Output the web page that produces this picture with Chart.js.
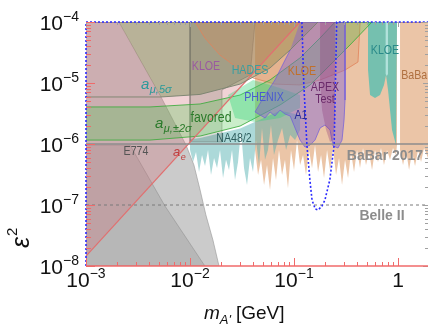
<!DOCTYPE html>
<html>
<head>
<meta charset="utf-8">
<script src="https://cdn.jsdelivr.net/npm/chart.js@4.4.0/dist/chart.umd.min.js"></script>
<style>
  html, body { margin: 0; padding: 0; background: #fff; }
  #c { display: block; }
</style>
</head>
<body>
<canvas id="c" width="428" height="328"></canvas>
<script>
// ===== DATOS (masa en GeV, epsilon^2) =====
const xTickValues = [0.001, 0.01, 0.1, 1];
const xTickExps = ['\u22123', '\u22122', '\u22121', null];
const yTickValues = [1e-8, 1e-7, 1e-6, 1e-5, 1e-4];
const yTickExps = ['\u22128', '\u22127', '\u22126', '\u22125', '\u22124'];

// BaBar 2017
const babarMass = [0.0422,0.0451,0.0482,0.0515,0.0550,0.0588,0.0628,0.0671,0.0717,0.0767,
  0.0819,0.0875,0.0935,0.1000,0.1069,0.1143,0.1221,0.1304,0.1394,0.1490,
  0.1592,0.1702,0.1819,0.1943,0.2077,0.2219,0.2371,0.2534,0.2708,0.2894,
  0.3093,0.3305,0.3532,0.3774,0.4033,0.4310,0.4605,0.4921,0.5259,0.5623,
  0.6005,0.6417,0.6858,0.7328,0.7832,0.8370,0.8945,0.9558,0.977,0.977,0.0422];
const babarEps = [8.0e-7,3.1e-7,5.5e-7,2.13e-7,4.53e-7,1.76e-7,5.9e-7,2.57e-7,8.0e-7,3.1e-7,
  5.5e-7,1.89e-7,8.0e-7,3.75e-7,1.16e-6,4.53e-7,6.6e-7,3.1e-7,8.0e-7,4.05e-7,
  9.6e-7,3.48e-7,6.6e-7,2.77e-7,8.0e-7,3.75e-7,8.6e-7,3.1e-7,5.9e-7,2.13e-7,
  5.5e-7,2.77e-7,7.4e-7,3.48e-7,8.0e-7,4.05e-7,8.6e-7,4.53e-7,7.4e-7,3.75e-7,
  8.0e-7,5.07e-7,8.6e-7,4.53e-7,8.0e-7,5.5e-7,8.6e-7,6.6e-7,9.6e-7,1e-4,1e-4];
const babar2Mass = [1.045,1.117,1.194,1.276,1.364,1.457,1.557,1.664,1.778,1.941,1.941,1.045];
const babar2Eps = [8.0e-7,4.53e-7,8.0e-7,3.75e-7,7.4e-7,4.36e-7,8.0e-7,5.07e-7,8.6e-7,5.9e-7,1e-4,1e-4];

// NA48/2
const na48Mass = [0.0100,0.01069,0.01142,0.01221,0.01304,0.01394,0.01490,0.01592,0.01702,0.01819,
  0.01943,0.02077,0.02219,0.02371,0.02534,0.02708,0.02894,0.03093,0.03305,0.03532,
  0.03774,0.04033,0.04310,0.04605,0.04921,0.05259,0.05620,0.06005,0.06417,0.07018,
  0.07674,0.08392,0.09178,0.1023,0.1143,0.1143,0.0733,0.0303,0.0125,0.0100];
const na48Eps = [8.0e-7,5.07e-7,7.4e-7,3.48e-7,6.6e-7,4.36e-7,8.0e-7,3.1e-7,5.9e-7,4.05e-7,
  8.0e-7,2.77e-7,5.5e-7,3.75e-7,8.0e-7,2.57e-7,5.07e-7,1.7e-6,4.05e-7,2.13e-7,
  5.9e-7,3.48e-7,1.16e-6,4.53e-7,1.83e-6,5.5e-7,8.0e-7,2.05e-6,6.6e-7,1.16e-6,
  1.83e-6,8.0e-7,1.41e-6,1.16e-6,1.7e-6,3.0e-6,3.5e-6,1.8e-6,1.25e-6,1.2e-6];

// KLOE (alta masa)
const kloe2Mass = [0.5145,0.5145,0.538,0.6005,0.671,0.7328,0.7667,0.8013,0.8757,0.9558,0.977];
const kloe2Eps = [1e-4,1.63e-5,6.35e-6,5.68e-6,6.35e-6,9.3e-6,1.35e-5,7.7e-6,1.7e-6,9.6e-7,1e-4];
const stripMass = [0.76,0.76,0.78,0.80,0.80];
const stripEps = [1e-4,1.4e-5,1.3e-5,1.4e-5,1e-4];

// beam dumps (E774, E141 ...)
const grayOuterMass = [1e-3,2.07e-3,5.26e-3,9.16e-3,0.0109,0.0125,0.0142,0.0166,0.019,1e-3];
const grayOuterEps = [1e-4,1e-4,5.9e-6,9.6e-7,4.53e-7,1.76e-7,6.9e-8,2.67e-8,1e-8,1e-8];
const grayInnerMass = [1e-3,2.65e-3,5.75e-3,0.0139,1e-3];
const grayInnerEps = [9.6e-7,9.6e-7,9.6e-8,1e-8,1e-8];

// a_e
const aeMass = [1e-3,0.114,1e-3];
const aeEps = [1.45e-8,1e-4,1e-4];

// a_mu 5 sigma
const amu5Mass = [2.07e-3,5.26e-3,0.0125,0.0303,0.0587,0.0916,0.143,0.170];
const amu5Eps = [1e-4,5.9e-6,6.5e-6,9.6e-6,1.76e-5,3.48e-5,7.4e-5,1e-4];
const amu5LineMass = [1e-3,5.26e-3,0.0125,0.0303,0.0587,0.0916,0.143,0.170];
const amu5LineEps = [5.9e-6,5.9e-6,6.5e-6,9.6e-6,1.76e-5,3.48e-5,7.4e-5,1e-4];

// a_mu +-2 sigma favored
const favMass = [1e-3,4.12e-3,0.0125,0.0303,0.0587,0.114,0.178,0.248,
  0.562,0.345,0.222,0.143,0.0733,0.0303,0.0125,4.12e-3,1e-3];
const favEps = [4.05e-6,4.05e-6,4.53e-6,6.35e-6,1.12e-5,2.57e-5,5.47e-5,1e-4,
  1e-4,4.2e-5,1.97e-5,9.3e-6,4.36e-6,1.97e-6,1.35e-6,1.16e-6,1.16e-6];

// KLOE / WASA (zona oscura)
const darkMass = [0.01,0.01,0.0203,0.0203,0.0378,0.0422];
const darkEps = [1e-4,1.08e-6,1.08e-6,7.7e-6,1.35e-5,1e-4];

// KLOE (naranja)
const kloeMass = [0.0112,0.0139,0.0194,0.0303,0.0404,0.0656,0.114,0.178,0.309,0.412,0.432];
const kloeEps = [1e-4,5.47e-5,2.88e-5,1.63e-5,1.21e-5,9.6e-6,9.3e-6,1.12e-5,1.63e-5,2.21e-5,1e-4];

// PHENIX
const phenixMass = [0.0232,0.0404,0.0733,0.114,0.114,0.0733,0.0422,0.0271];
const phenixEps = [6.35e-6,1.12e-5,8.3e-6,6.35e-6,3.9e-6,2.67e-6,2.3e-6,2.67e-6];

// A1
const a1Mass = [0.1143,0.3093,0.3093,0.3027,0.2894,0.2649,0.2371,0.2219,0.1986,0.178,
  0.1592,0.1426,0.1276,0.1143,0.1023,0.0918,0.0819,0.0733,0.0656,0.0588,
  0.0526,0.0471,0.0422,0.0492,0.0656,0.0918];
const a1Eps = [1e-4,1e-4,5.26e-6,2.47e-6,1.16e-6,8.6e-7,9.3e-7,1.7e-6,2.05e-6,1.83e-6,
  1.16e-6,9.6e-7,8.9e-7,1.16e-6,1.83e-6,2.88e-6,3.1e-6,3.6e-6,2.88e-6,3.35e-6,
  2.67e-6,3.0e-6,3.35e-6,5.26e-6,1.12e-5,3.48e-5];

// APEX test
const apexMass = [0.178,0.2477,0.2477,0.2371,0.2219,0.2031,0.1858,0.178];
const apexEps = [1e-4,1e-4,2.47e-6,1.16e-6,1.08e-6,1.7e-6,3.6e-6,1.12e-5];

// Belle II (proyeccion, punteada)
const belleMass = [1e-3,1e-3,0.119,0.124,0.133,0.142,0.149,0.160,0.170,0.185,0.198,0.221,0.243,0.257,1.941];
const belleEps = [1e-8,1e-4,1e-4,1e-5,9.6e-7,2.6e-7,1.2e-7,8.6e-8,8.3e-8,9.5e-8,1.2e-7,2.6e-7,9.6e-7,1e-4,1e-4];

// lineas horizontales
const refLineMass = [1e-3, 1.941];
const babar17Eps = [1e-6, 1e-6];
const belle2Eps = [1e-7, 1e-7];

// ===== HELPERS =====
const FONT = '"Liberation Sans", Arial, Helvetica, sans-serif';
let drawIdx = 0;

function pts(ms, es) {
  return ms.map((m, i) => ({ x: m, y: es[i] }));
}

function region(ms, es, fillColor, borderColor, borderWidth) {
  return {
    data: pts(ms, es),
    showLine: true,
    fill: 'shape',
    backgroundColor: fillColor,
    borderColor: borderColor || 'rgba(0,0,0,0)',
    borderWidth: borderWidth || 0,
    pointRadius: 0,
    tension: 0,
    order: 100 - (drawIdx++)
  };
}

function line(ms, es, color, width, dash) {
  return {
    data: pts(ms, es),
    showLine: true,
    fill: false,
    borderColor: color,
    borderWidth: width,
    borderDash: dash || [],
    pointRadius: 0,
    tension: 0,
    clip: 3,
    order: 100 - (drawIdx++)
  };
}

const datasets = [
  region(babarMass, babarEps, 'rgba(215,140,80,0.5)'),
  region(babar2Mass, babar2Eps, 'rgba(215,140,80,0.5)'),
  region(na48Mass, na48Eps, 'rgba(70,170,170,0.45)'),
  region(kloe2Mass, kloe2Eps, 'rgba(60,190,180,0.68)'),
  region(stripMass, stripEps, 'rgba(220,250,250,0.6)'),
  region(grayOuterMass, grayOuterEps, 'rgba(110,110,110,0.36)', 'rgba(150,150,150,0.6)', 1),
  region(grayInnerMass, grayInnerEps, 'rgba(110,110,110,0.22)', 'rgba(140,140,140,0.5)', 1),
  region(aeMass, aeEps, 'rgba(210,110,120,0.3)'),
  region(amu5Mass, amu5Eps, 'rgba(100,130,60,0.4)'),
  region(darkMass, darkEps, 'rgba(80,80,60,0.2)', 'rgba(90,90,80,0.35)', 1),
  region(kloeMass, kloeEps, 'rgba(215,140,90,0.3)', 'rgba(225,130,90,0.8)', 1),
  region(favMass, favEps, 'rgba(80,200,80,0.3)', 'rgba(60,170,60,0.85)', 1),
  region(phenixMass, phenixEps, 'rgba(50,210,120,0.38)'),
  region(a1Mass, a1Eps, 'rgba(130,100,210,0.45)', 'rgba(110,90,220,0.7)', 1),
  region(apexMass, apexEps, 'rgba(140,50,120,0.3)'),
  line([aeMass[0], aeMass[1]], [aeEps[0], aeEps[1]], '#e07070', 1.2),
  line(amu5LineMass, amu5LineEps, 'rgba(120,130,110,0.9)', 1),
  line(refLineMass, babar17Eps, '#8c8c8c', 1.5),
  line(refLineMass, belle2Eps, '#7a7a7a', 1, [3, 3]),
  line(belleMass, belleEps, '#2a2aff', 1.6, [2, 2])
];

// ===== ETIQUETAS =====
const regionLabels = [
  { t: 'KLOE', x: 206, y: 66, c: '#9a5aa0' },
  { t: 'HADES', x: 250, y: 70, c: '#3a9ea0' },
  { t: 'KLOE', x: 302, y: 71, c: '#c0702a' },
  { t: 'PHENIX', x: 264, y: 97, c: '#4a5ad0' },
  { t: 'APEX', x: 325, y: 87, c: '#6a2a6a' },
  { t: 'Test', x: 325, y: 99, c: '#6a2a6a' },
  { t: 'A1', x: 301, y: 115, c: '#2a2a9a' },
  { t: 'NA48/2', x: 234, y: 138, c: '#2e5e5e' },
  { t: 'E774', x: 136, y: 151, c: '#555555' },
  { t: 'KLOE', x: 385, y: 50, c: '#2a8a8a' },
  { t: 'BaBar', x: 416, y: 75, c: '#b07040' },
  { t: 'favored', x: 211, y: 118, c: '#2a7a2a', s: 15 }
];

function squeezed(ctx, t, x, y, size, color) {
  ctx.save();
  ctx.translate(x, y);
  ctx.scale(0.82, 1);
  ctx.font = size + 'px ' + FONT;
  ctx.fillStyle = color;
  ctx.textAlign = 'center';
  ctx.textBaseline = 'middle';
  ctx.fillText(t, 0, 0);
  ctx.restore();
}

function withSub(ctx, main, sub, x, base, color, size) {
  ctx.save();
  ctx.fillStyle = color;
  ctx.textAlign = 'left';
  ctx.textBaseline = 'alphabetic';
  ctx.font = 'italic ' + size + 'px ' + FONT;
  ctx.fillText(main, x, base);
  const w = ctx.measureText(main).width;
  ctx.font = 'italic ' + Math.round(size * 0.7) + 'px ' + FONT;
  ctx.fillText(sub, x + w + 0.5, base + size * 0.28);
  ctx.restore();
}

function pow10(ctx, exp, x, base, align) {
  ctx.font = '21px ' + FONT;
  const b = exp === null ? '1' : '10';
  const wb = ctx.measureText(b).width;
  let we = 0;
  if (exp !== null) {
    ctx.font = '14px ' + FONT;
    we = ctx.measureText(exp).width;
  }
  const total = wb + we;
  const x0 = align === 'right' ? x - total : x - total / 2;
  ctx.textAlign = 'left';
  ctx.textBaseline = 'alphabetic';
  ctx.font = '21px ' + FONT;
  ctx.fillText(b, x0, base);
  if (exp !== null) {
    ctx.font = '14px ' + FONT;
    ctx.fillText(exp, x0 + wb, base - 9);
  }
}

function logTicks(min, max) {
  const out = [];
  for (let e = -9; e <= 1; e++) {
    for (let k = 1; k <= 9; k++) {
      const v = k * Math.pow(10, e);
      if (v >= min * 0.999 && v <= max * 1.001) out.push({ v, major: k === 1 });
    }
  }
  return out;
}

const framePlugin = {
  id: 'frame',
  beforeDatasetsDraw(chart) {
    const { ctx, chartArea: a } = chart;
    ctx.save();
    ctx.strokeStyle = '#b0b0b0';
    ctx.lineWidth = 1;
    ctx.beginPath();
    ctx.moveTo(a.left, a.top + 0.5);
    ctx.lineTo(a.right, a.top + 0.5);
    ctx.stroke();
    ctx.restore();
  },
  afterDraw(chart) {
    const { ctx, chartArea: a, scales: { x, y } } = chart;
    ctx.save();

    // ticks inferiores / superiores
    logTicks(x.min, x.max).forEach(t => {
      const px = Math.round(x.getPixelForValue(t.v)) + 0.5;
      ctx.strokeStyle = '#f06a6a';
      ctx.lineWidth = 1;
      ctx.beginPath();
      ctx.moveTo(px, a.bottom);
      ctx.lineTo(px, a.bottom - (t.major ? 8 : 4));
      ctx.stroke();
      ctx.strokeStyle = '#a0a0a0';
      ctx.beginPath();
      ctx.moveTo(px, a.top);
      ctx.lineTo(px, a.top + (t.major ? 5 : 3));
      ctx.stroke();
    });
    // ticks izquierda / derecha
    logTicks(y.min, y.max).forEach(t => {
      const py = Math.round(y.getPixelForValue(t.v)) + 0.5;
      ctx.strokeStyle = '#f06a6a';
      ctx.lineWidth = 1;
      ctx.beginPath();
      ctx.moveTo(a.left, py);
      ctx.lineTo(a.left + (t.major ? 9 : 5), py);
      ctx.stroke();
      ctx.strokeStyle = '#a0a0a0';
      ctx.beginPath();
      ctx.moveTo(a.right, py);
      ctx.lineTo(a.right - (t.major ? 5 : 3), py);
      ctx.stroke();
    });
    // eje inferior
    ctx.strokeStyle = '#f06a6a';
    ctx.lineWidth = 1.5;
    ctx.beginPath();
    ctx.moveTo(a.left, a.bottom);
    ctx.lineTo(a.right, a.bottom);
    ctx.stroke();

    // etiquetas de ticks
    ctx.fillStyle = '#111';
    yTickValues.forEach((v, i) => {
      pow10(ctx, yTickExps[i], a.left - 7, y.getPixelForValue(v) + 8, 'right');
    });
    xTickValues.forEach((v, i) => {
      pow10(ctx, xTickExps[i], x.getPixelForValue(v), a.bottom + 21, 'center');
    });

    // titulo eje x
    ctx.fillStyle = '#111';
    ctx.textAlign = 'left';
    ctx.textBaseline = 'alphabetic';
    ctx.font = 'italic 19px ' + FONT;
    let tx = 204;
    ctx.fillText('m', tx, 319);
    tx += ctx.measureText('m').width;
    ctx.font = 'italic 13px ' + FONT;
    ctx.fillText("A'", tx, 324);
    tx += ctx.measureText("A'").width + 2;
    ctx.font = '19px ' + FONT;
    ctx.fillText('[GeV]', tx + 3, 319);

    // titulo eje y
    ctx.save();
    ctx.translate(29, 248);
    ctx.rotate(-Math.PI / 2);
    ctx.font = 'italic 25px ' + FONT;
    ctx.fillText('\u03b5', 0, 0);
    const we = ctx.measureText('\u03b5').width;
    ctx.font = '15px ' + FONT;
    ctx.fillText('2', we + 1, -12);
    ctx.restore();

    // etiquetas de regiones
    regionLabels.forEach(l => squeezed(ctx, l.t, l.x, l.y, l.s || 13, l.c));
    withSub(ctx, 'a', '\u03bc,5\u03c3', 141, 89, '#2a9a9a', 15);
    withSub(ctx, 'a', '\u03bc,\u00b12\u03c3', 155, 128, '#2a7a2a', 15);
    withSub(ctx, 'a', 'e', 173, 156, '#c04040', 13);

    ctx.fillStyle = '#8c8c8c';
    ctx.font = 'bold 14px ' + FONT;
    ctx.textAlign = 'center';
    ctx.textBaseline = 'middle';
    ctx.fillText('BaBar 2017', 385, 156);
    ctx.fillText('Belle II', 382, 216);

    ctx.restore();
  }
};

new Chart(document.getElementById('c'), {
  type: 'scatter',
  data: { datasets },
  options: {
    responsive: false,
    animation: false,
    devicePixelRatio: 1,
    events: [],
    layout: { padding: { left: 86, top: 22, right: 0, bottom: 62 } },
    scales: {
      x: { type: 'logarithmic', min: 1e-3, max: 1.941, display: false },
      y: { type: 'logarithmic', min: 1e-8, max: 1e-4, display: false }
    },
    plugins: {
      legend: { display: false },
      tooltip: { enabled: false }
    }
  },
  plugins: [framePlugin]
});
</script>
</body>
</html>
